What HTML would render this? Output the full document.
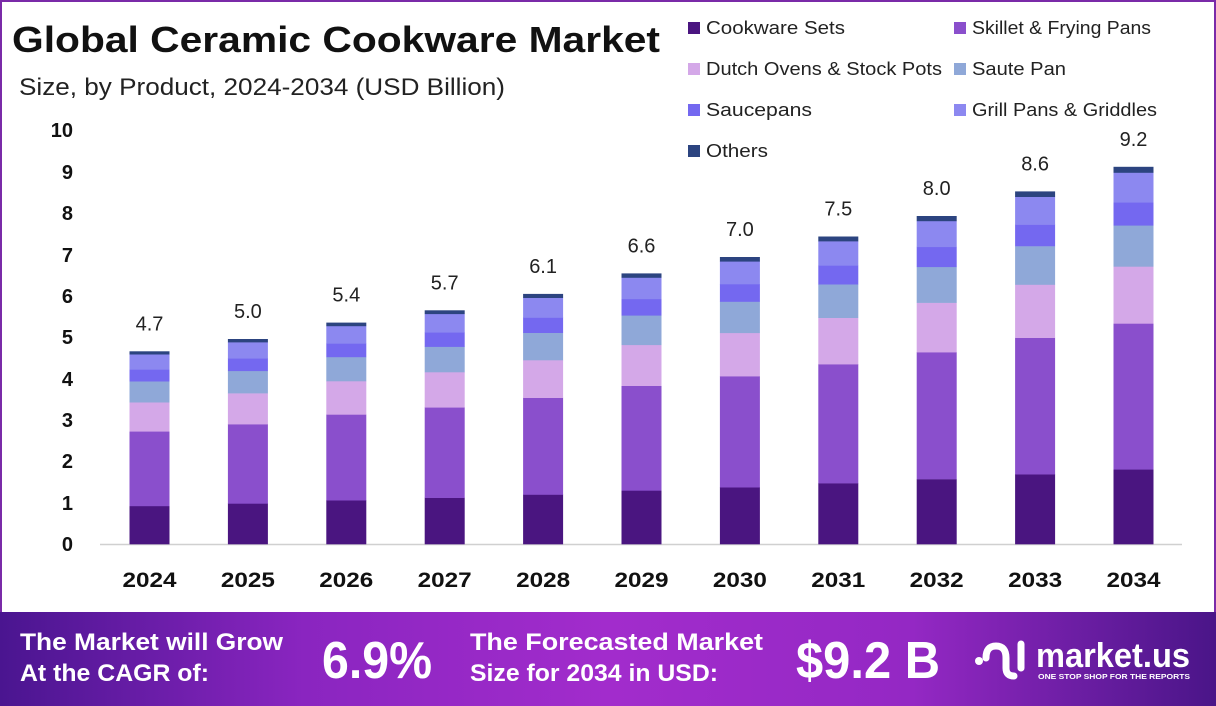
<!DOCTYPE html>
<html><head><meta charset="utf-8">
<style>
html,body{margin:0;padding:0;}
body{width:1216px;height:706px;overflow:hidden;background:#fff;font-family:"Liberation Sans",sans-serif;position:relative;}
.frame{position:absolute;left:0;top:0;width:1212px;height:612px;border:2px solid #7a2aa8;border-bottom:none;}
</style></head><body>
<div class="frame"></div>
<svg width="1216" height="612" style="position:absolute;left:0;top:0" xmlns="http://www.w3.org/2000/svg" font-family="Liberation Sans, sans-serif">
<text x="12" y="52" font-size="36" font-weight="bold" fill="#111" textLength="648" lengthAdjust="spacingAndGlyphs">Global Ceramic Cookware Market</text>
<text x="19" y="95" font-size="24" fill="#222" textLength="486" lengthAdjust="spacingAndGlyphs">Size, by Product, 2024-2034 (USD Billion)</text>
<g font-size="18" fill="#222">
<rect x="688" y="22" width="12" height="12" fill="#4a1580"/><text x="706" y="34" textLength="139" lengthAdjust="spacingAndGlyphs">Cookware Sets</text>
<rect x="954" y="22" width="12" height="12" fill="#8a4fcc"/><text x="972" y="34" textLength="179" lengthAdjust="spacingAndGlyphs">Skillet &amp; Frying Pans</text>
<rect x="688" y="63" width="12" height="12" fill="#d4a8e8"/><text x="706" y="75" textLength="236" lengthAdjust="spacingAndGlyphs">Dutch Ovens &amp; Stock Pots</text>
<rect x="954" y="63" width="12" height="12" fill="#8fa8d8"/><text x="972" y="75" textLength="94" lengthAdjust="spacingAndGlyphs">Saute Pan</text>
<rect x="688" y="104" width="12" height="12" fill="#7468f0"/><text x="706" y="116" textLength="106" lengthAdjust="spacingAndGlyphs">Saucepans</text>
<rect x="954" y="104" width="12" height="12" fill="#8c88f0"/><text x="972" y="116" textLength="185" lengthAdjust="spacingAndGlyphs">Grill Pans &amp; Griddles</text>
<rect x="688" y="145" width="12" height="12" fill="#2c4480"/><text x="706" y="157" textLength="62" lengthAdjust="spacingAndGlyphs">Others</text>
</g>
<g font-size="20" font-weight="bold" fill="#111" text-anchor="end">
<text x="73" y="137">10</text><text x="73" y="179">9</text><text x="73" y="220">8</text><text x="73" y="262">7</text><text x="73" y="303">6</text><text x="73" y="344">5</text><text x="73" y="386">4</text><text x="73" y="427">3</text><text x="73" y="468">2</text><text x="73" y="510">1</text><text x="73" y="551">0</text>
</g>
<line x1="100" y1="544.5" x2="1182" y2="544.5" stroke="#d0d0d0" stroke-width="1.5"/>
<g id="bars"></g>
</svg>
<svg width="1216" height="94" style="position:absolute;left:0;top:612px" xmlns="http://www.w3.org/2000/svg" font-family="Liberation Sans, sans-serif">
<defs><linearGradient id="g" x1="0" x2="1" y1="0" y2="0">
<stop offset="0" stop-color="#4a1590"/><stop offset="0.25" stop-color="#8a25c0"/><stop offset="0.5" stop-color="#a22ccc"/><stop offset="0.75" stop-color="#9428c4"/><stop offset="1" stop-color="#4a1588"/></linearGradient></defs>
<rect width="1216" height="94" fill="url(#g)"/>
<g fill="#fff" font-weight="bold">
<text x="20" y="38" font-size="24" textLength="263" lengthAdjust="spacingAndGlyphs">The Market will Grow</text>
<text x="20" y="69" font-size="24" textLength="189" lengthAdjust="spacingAndGlyphs">At the CAGR of:</text>
<text x="322" y="66" font-size="52" textLength="110" lengthAdjust="spacingAndGlyphs">6.9%</text>
<text x="470" y="38" font-size="24" textLength="293" lengthAdjust="spacingAndGlyphs">The Forecasted Market</text>
<text x="470" y="69" font-size="24" textLength="248" lengthAdjust="spacingAndGlyphs">Size for 2034 in USD:</text>
<text x="796" y="66" font-size="52" textLength="144" lengthAdjust="spacingAndGlyphs">$9.2 B</text>
<text x="1036" y="55" font-size="34" textLength="154" lengthAdjust="spacingAndGlyphs">market.us</text>
<text x="1038" y="67" font-size="7" textLength="152" lengthAdjust="spacingAndGlyphs">ONE STOP SHOP FOR THE REPORTS</text>
</g>
<g fill="none" stroke="#fff" stroke-width="7" stroke-linecap="round">
<path d="M986 46 q0-12 10-12 q10 0 10 12 v10 q0 8 8 8"/>
<line x1="1021" y1="32" x2="1021" y2="56"/>
</g>
<circle cx="979" cy="49" r="4" fill="#fff"/>
</svg>
<script>
var vals=[4.7,5.0,5.4,5.7,6.1,6.6,7.0,7.5,8.0,8.6,9.2];
var fr=[.198,.387,.151,.109,.061,.079,.015];
var col=["#4a1580","#8a4fcc","#d4a8e8","#8fa8d8","#7468f0","#8c88f0","#2c4480"];
var s="",sc=41.0;
for(var i=0;i<11;i++){
 var cx=149.5+i*98.4,x=cx-20,y=544,H=vals[i]*sc;
 for(var k=0;k<7;k++){var h=H*fr[k];y-=h;s+='<rect x="'+x.toFixed(1)+'" y="'+y.toFixed(1)+'" width="40" height="'+(h+0.3).toFixed(1)+'" fill="'+col[k]+'"/>';}
 s+='<text x="'+cx.toFixed(1)+'" y="'+(544-H-21).toFixed(1)+'" font-size="20" fill="#222" text-anchor="middle">'+vals[i].toFixed(1)+'</text>';
 s+='<text x="'+cx.toFixed(1)+'" y="587" font-size="21" font-weight="bold" fill="#111" text-anchor="middle" textLength="54" lengthAdjust="spacingAndGlyphs">'+(2024+i)+'</text>';
}
document.getElementById("bars").innerHTML=s;
</script>
</body></html>
